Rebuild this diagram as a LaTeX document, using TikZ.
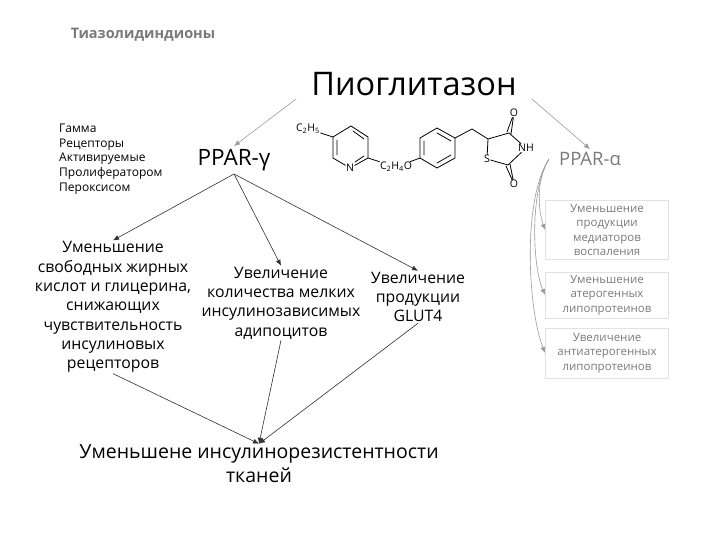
\documentclass[tikz,border=0pt]{standalone}
\usepackage{fontspec}
\setmainfont{Open Sans}
\usepackage{xcolor}
\usepackage{tikz}
\usetikzlibrary{arrows.meta}
\definecolor{grayTxt}{HTML}{7A7A7A}
\definecolor{grayLine}{HTML}{9A9A9A}
\definecolor{boxLine}{HTML}{E2E2E2}
\definecolor{darkLine}{HTML}{303030}
\tikzset{
  base/.style={align=center, inner sep=1pt, text=black},
  effect node/.style={base, font=\fontsize{15.8}{19.3}\selectfont},
  alpha node/.style={base, text=grayTxt, draw=boxLine, line width=0.8pt,
    font=\fontsize{11.5}{14.3}\selectfont, minimum width=123pt},
  atom/.style={inner sep=0.5pt, font=\fontsize{10.5}{12}\selectfont},
  bond/.style={line width=0.8pt, line cap=round},
  dark arrow/.style={-{Latex[length=6pt,width=5pt]}, darkLine, line width=0.6pt},
  gray arrow/.style={-{Latex[length=6pt,width=5pt]}, grayLine, line width=0.6pt},
}
\newcommand{\subnum}[1]{\textsubscript{#1}}
\begin{document}
\begin{tikzpicture}[x=1pt, y=-1pt]
    \useasboundingbox (0,0) rectangle (720,540);

    % Nodes
    \node[base, text=grayTxt, font=\bfseries\fontsize{14.5}{16}\selectfont] (drugclass) at (143,35) {Тиазолидиндионы};
    \node[base, inner sep=3pt, inner xsep=15pt, font=\fontsize{32.5}{36}\selectfont] (pioglitazone) at (414,84) {Пиоглитазон};
    \node[base, align=left, font=\fontsize{12}{14.7}\selectfont, anchor=west] (acronym) at (58,159)
      {Гамма\\Рецепторы\\Активируемые\\Пролифератором\\Пероксисом};
    \node[base, inner sep=3pt, font=\fontsize{22.5}{26}\selectfont] (gamma) at (234,160) {PPAR-γ};
    \node[base, text=grayTxt, inner sep=3pt, inner xsep=10pt, font=\fontsize{18.5}{20}\selectfont] (alpha) at (590,159) {PPAR-α};
    \node[effect node] (fatacids) at (113,307)
      {Уменьшение\\свободных жирных\\кислот и глицерина,\\снижающих\\чувствительность\\инсулиновых\\рецепторов};
    \node[effect node] (adipocytes) at (281,303)
      {Увеличение\\количества мелких\\инсулинозависимых\\адипоцитов};
    \node[effect node] (glut) at (418,297) {Увеличение\\продукции\\GLUT4};
    \node[base, font=\fontsize{19.5}{24}\selectfont] (resistance) at (259,464)
      {Уменьшене инсулинорезистентности\\тканей};
    \node[alpha node, minimum height=59pt] (inflammation) at (607,230)
      {Уменьшение\\продукции\\медиаторов\\воспаления};
    \node[alpha node, minimum height=46pt] (atherogenic) at (607,295)
      {Уменьшение\\атерогенных\\липопротеинов};
    \node[alpha node, minimum height=50pt] (antiatherogenic) at (607,353)
      {Увеличение\\антиатерогенных\\липопротеинов};

    % Molecule
    \node[atom] (ethyl) at (308,129) {C\subnum{2}H\subnum{5}};
    \node[atom] (nitrogen) at (350,168) {N};
    \node[atom] (linker) at (396,167) {C\subnum{2}H\subnum{4}O};
    \node[atom] (sulfur) at (487,159) {S};
    \node[atom] (imide) at (526,148) {NH};
    \node[atom] (oxotop) at (514,113) {O};
    \node[atom] (oxobottom) at (514,184) {O};
    \draw[bond] (ethyl) -- (333,137) -- (351,126) -- (368,137) -- (368,158) -- (nitrogen) -- (333,158) -- (333,137);
    \draw[bond] (337,140) -- (337,155) (353,131) -- (364,139) (364,156) -- (355,162);
    \draw[bond] (368,158) -- (linker);
    \draw[bond] (linker) -- (420,158) -- (420,138) -- (437,128) -- (455,138) -- (455,158) -- (437,168) -- (420,158);
    \draw[bond] (424,141) -- (424,155) (437,133) -- (451,141) (451,155) -- (437,163);
    \draw[bond] (455,138) -- (472,129) -- (488,139) -- (509,133) -- (imide);
    \draw[bond] (488,139) -- (sulfur) -- (508,165) -- (imide);
    \draw[bond] (507,132) -- (oxotop) (511,134) -- (oxotop);
    \draw[bond] (506,166) -- (oxobottom) (510,164) -- (oxobottom);

    % Arrows
    \draw[gray arrow] (pioglitazone.south west) -- (gamma.north);
    \draw[gray arrow] (pioglitazone.south east) -- (alpha.north);
    \draw[dark arrow] (gamma.south) -- (fatacids.north);
    \draw[dark arrow] (gamma.south) -- (adipocytes.north);
    \draw[dark arrow] (gamma.south) -- (glut.north);
    \draw[dark arrow] (fatacids.south) -- (resistance.north);
    \draw[dark arrow] (adipocytes.south) -- (resistance.north);
    \draw[dark arrow] (glut.south) -- (resistance.north);
    \draw[gray arrow] (alpha.west) .. controls (536,180) and (538,210) .. (inflammation.west);
    \draw[gray arrow] (alpha.west) .. controls (530,190) and (532,265) .. (atherogenic.west);
    \draw[gray arrow] (alpha.west) .. controls (522,200) and (528,310) .. (antiatherogenic.west);
\end{tikzpicture}
\end{document}
